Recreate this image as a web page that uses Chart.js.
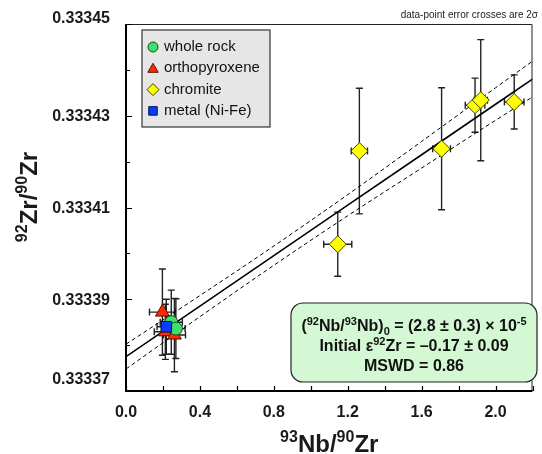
<!DOCTYPE html>
<html><head><meta charset="utf-8">
<script src="https://cdn.jsdelivr.net/npm/chart.js@4.4.1/dist/chart.umd.min.js"></script>
<style>html,body{margin:0;padding:0;background:#fff}#wrap{width:542px;height:454px;position:relative}</style>
</head><body><div id="wrap"><canvas id="c" width="542" height="454"></canvas></div>
<script>
// ---- data ----
const seriesNames = ['whole rock', 'orthopyroxene', 'chromite', 'metal (Ni-Fe)'];

const wholeRockX    = [0.245, 0.270];
const wholeRockY    = [0.3333850, 0.3333836];
const wholeRockXErr = [0.060, 0.050];
const wholeRockYErr = [0.0000070, 0.0000065];

const opxX    = [0.197, 0.213, 0.262];
const opxY    = [0.3333872, 0.3333829, 0.3333822];
const opxXErr = [0.070, 0.060, 0.060];
const opxYErr = [0.0000094, 0.0000060, 0.0000080];

const chromiteX    = [1.146, 1.263, 1.708, 1.889, 1.920, 2.101];
const chromiteY    = [0.3334020, 0.3334223, 0.3334228, 0.3334323, 0.3334334, 0.3334330];
const chromiteXErr = [0.076, 0.044, 0.048, 0.053, 0.036, 0.053];
const chromiteYErr = [0.0000070, 0.0000137, 0.0000133, 0.0000059, 0.0000132, 0.0000059];

const metalX    = [0.218];
const metalY    = [0.3333840];
const metalXErr = [0.050];
const metalYErr = [0.0000060];

// isochron fit and its error envelope
const fitX     = [0, 0.4, 0.8, 1.2, 1.6, 2.0, 2.2];
const fitY     = [0.3333775, 0.3333885, 0.3333995, 0.3334105, 0.3334215, 0.3334325, 0.3334380];
const fitUpper = [0.3333802, 0.3333908, 0.3334016, 0.3334128, 0.3334244, 0.3334361, 0.3334419];
const fitLower = [0.3333748, 0.3333862, 0.3333974, 0.3334082, 0.3334186, 0.3334290, 0.3334341];

// axis ticks
const xTickValues = [0, 0.2, 0.4, 0.6, 0.8, 1.0, 1.2, 1.4, 1.6, 1.8, 2.0, 2.2];
const xLabelValues = [0, 0.4, 0.8, 1.2, 1.6, 2.0];
const xLabelText = ['0.0', '0.4', '0.8', '1.2', '1.6', '2.0'];
const yTickValues = [0.33337, 0.33338, 0.33339, 0.33340, 0.33341, 0.33342, 0.33343, 0.33344, 0.33345];
const yLabelValues = [0.33337, 0.33339, 0.33341, 0.33343, 0.33345];
const yLabelText = ['0.33337', '0.33339', '0.33341', '0.33343', '0.33345'];

const resultLines = [
  [['(', 'n'], ['92', 'sup'], ['Nb/', 'n'], ['93', 'sup'], ['Nb)', 'n'], ['0', 'sub'], [' = (2.8 \u00b1 0.3) \u00d7 10', 'n'], ['-5', 'sup']],
  [['Initial \u03b5', 'n'], ['92', 'sup'], ['Zr = \u20130.17 \u00b1 0.09', 'n']],
  [['MSWD = 0.86', 'n']]
];
const noteText = 'data-point error crosses are 2\u03c3';

// ---- build ----
const FONT = '"Liberation Sans", Arial, Helvetica, sans-serif';
function pts(xs, ys, xe, ye) { return xs.map((x, i) => ({x: x, y: ys[i], xe: xe[i], ye: ye[i]})); }
function linePts(xs, ys) { return xs.map((x, i) => ({x: x, y: ys[i]})); }

const styles = [
  {bg: '#3ee06a', bd: '#1a4a1a', ps: 'circle', r: 6.5, lr: 5},
  {bg: '#ff2a00', bd: '#5a1000', ps: 'triangle', r: 8, lr: 6},
  {bg: '#ffff00', bd: '#444400', ps: 'rectRot', r: 8.5, lr: 6},
  {bg: '#0a3cff', bd: '#001050', ps: 'rect', r: 7.5, lr: 6}
];
const pointData = [
  pts(wholeRockX, wholeRockY, wholeRockXErr, wholeRockYErr),
  pts(opxX, opxY, opxXErr, opxYErr),
  pts(chromiteX, chromiteY, chromiteXErr, chromiteYErr),
  pts(metalX, metalY, metalXErr, metalYErr)
];
const pointOrder = [1, 2, 3, 0];

const datasets = [];
seriesNames.forEach((name, i) => {
  datasets.push({
    type: 'scatter', label: name, data: pointData[i], order: pointOrder[i],
    pointStyle: styles[i].ps, pointRadius: styles[i].r, pointHoverRadius: styles[i].r,
    backgroundColor: styles[i].bg, borderColor: styles[i].bd, borderWidth: 1, errorBars: true
  });
});
datasets.push({type: 'line', label: 'fit', data: linePts(fitX, fitY), order: 10,
  borderColor: '#000', borderWidth: 1.6, pointRadius: 0, fill: false});
datasets.push({type: 'line', label: 'upper', data: linePts(fitX, fitUpper), order: 10,
  borderColor: '#000', borderWidth: 1, borderDash: [4, 3], pointRadius: 0, fill: false, cubicInterpolationMode: 'monotone'});
datasets.push({type: 'line', label: 'lower', data: linePts(fitX, fitLower), order: 10,
  borderColor: '#000', borderWidth: 1, borderDash: [4, 3], pointRadius: 0, fill: false, cubicInterpolationMode: 'monotone'});

function richWidth(ctx, parts, size) {
  let w = 0;
  parts.forEach(p => {
    ctx.font = 'bold ' + (p[1] === 'n' ? size : Math.round(size * 0.66)) + 'px ' + FONT;
    w += ctx.measureText(p[0]).width;
  });
  return w;
}
function drawRich(ctx, parts, x, y, size, align) {
  const w = richWidth(ctx, parts, size);
  let cx = align === 'center' ? x - w / 2 : (align === 'right' ? x - w : x);
  ctx.textBaseline = 'alphabetic';
  ctx.textAlign = 'left';
  parts.forEach(p => {
    const small = p[1] !== 'n';
    ctx.font = 'bold ' + (small ? Math.round(size * 0.66) : size) + 'px ' + FONT;
    let dy = 0;
    if (p[1] === 'sup') dy = -size * 0.40;
    if (p[1] === 'sub') dy = size * 0.22;
    ctx.fillText(p[0], cx, y + dy);
    cx += ctx.measureText(p[0]).width;
  });
}
function roundRect(ctx, x, y, w, h, r) {
  ctx.beginPath();
  ctx.moveTo(x + r, y);
  ctx.lineTo(x + w - r, y); ctx.arcTo(x + w, y, x + w, y + r, r);
  ctx.lineTo(x + w, y + h - r); ctx.arcTo(x + w, y + h, x + w - r, y + h, r);
  ctx.lineTo(x + r, y + h); ctx.arcTo(x, y + h, x, y + h - r, r);
  ctx.lineTo(x, y + r); ctx.arcTo(x, y, x + r, y, r);
  ctx.closePath();
}

const decor = {
  id: 'decor',
  beforeDatasetsDraw(chart) {
    const ctx = chart.ctx, xs = chart.scales.x, ys = chart.scales.y, a = chart.chartArea;
    ctx.save();
    ctx.beginPath(); ctx.rect(a.left, a.top, a.right - a.left, a.bottom - a.top); ctx.clip();
    ctx.strokeStyle = '#222'; ctx.lineWidth = 1.4;
    chart.data.datasets.forEach(ds => {
      if (!ds.errorBars) return;
      ds.data.forEach(p => {
        const px = xs.getPixelForValue(p.x), py = ys.getPixelForValue(p.y);
        const x1 = xs.getPixelForValue(p.x - p.xe), x2 = xs.getPixelForValue(p.x + p.xe);
        const y1 = ys.getPixelForValue(p.y + p.ye), y2 = ys.getPixelForValue(p.y - p.ye);
        const c = 3.5;
        ctx.beginPath();
        ctx.moveTo(x1, py); ctx.lineTo(x2, py);
        ctx.moveTo(x1, py - c); ctx.lineTo(x1, py + c);
        ctx.moveTo(x2, py - c); ctx.lineTo(x2, py + c);
        ctx.moveTo(px, y1); ctx.lineTo(px, y2);
        ctx.moveTo(px - c, y1); ctx.lineTo(px + c, y1);
        ctx.moveTo(px - c, y2); ctx.lineTo(px + c, y2);
        ctx.stroke();
      });
    });
    ctx.restore();
  },
  afterDraw(chart) {
    const ctx = chart.ctx, xs = chart.scales.x, ys = chart.scales.y, a = chart.chartArea;
    ctx.save();
    // frame
    ctx.strokeStyle = '#222'; ctx.lineWidth = 1;
    ctx.beginPath();
    ctx.moveTo(a.left, a.top + 0.5); ctx.lineTo(a.right - 0.5, a.top + 0.5); ctx.lineTo(a.right - 0.5, a.bottom);
    ctx.stroke();
    ctx.strokeStyle = '#000'; ctx.lineWidth = 2;
    ctx.beginPath();
    ctx.moveTo(a.left, a.top); ctx.lineTo(a.left, a.bottom); ctx.lineTo(a.right, a.bottom);
    ctx.stroke();
    // tick marks (inward)
    ctx.lineWidth = 1.2; ctx.strokeStyle = '#000';
    ctx.beginPath();
    xTickValues.forEach(v => {
      const px = Math.round(xs.getPixelForValue(v)) + 0.5;
      ctx.moveTo(px, a.bottom); ctx.lineTo(px, a.bottom - 5);
    });
    yTickValues.forEach(v => {
      const py = Math.round(ys.getPixelForValue(v)) + 0.5;
      const major = yLabelValues.some(l => Math.abs(l - v) < 1e-9);
      ctx.moveTo(a.left, py); ctx.lineTo(a.left + (major ? 6 : 4), py);
    });
    ctx.stroke();
    // tick labels
    ctx.fillStyle = '#1a1a1a';
    ctx.font = 'bold 16px ' + FONT;
    ctx.textAlign = 'center'; ctx.textBaseline = 'middle';
    xLabelValues.forEach((v, i) => ctx.fillText(xLabelText[i], xs.getPixelForValue(v), 413));
    ctx.textAlign = 'right';
    yLabelValues.forEach((v, i) => {
      let py = ys.getPixelForValue(v);
      if (i === 0) py -= 12;
      if (i === yLabelValues.length - 1) py -= 6;
      ctx.fillText(yLabelText[i], 110, py + 1);
    });
    // axis titles
    ctx.fillStyle = '#1a1a1a';
    drawRich(ctx, [['93', 'sup'], ['Nb/', 'n'], ['90', 'sup'], ['Zr', 'n']], (a.left + a.right) / 2, 452, 24, 'center');
    ctx.save();
    ctx.translate(37, 197); ctx.rotate(-Math.PI / 2);
    drawRich(ctx, [['92', 'sup'], ['Zr/', 'n'], ['90', 'sup'], ['Zr', 'n']], 0, 0, 24, 'center');
    ctx.restore();
    // note
    ctx.font = '10px ' + FONT; ctx.fillStyle = '#222';
    ctx.textAlign = 'right'; ctx.textBaseline = 'middle';
    ctx.fillText(noteText, 538, 15);
    // legend
    ctx.fillStyle = '#e6e6e6'; ctx.strokeStyle = '#333'; ctx.lineWidth = 1.2;
    ctx.fillRect(142, 30, 128, 97); ctx.strokeRect(142, 30, 128, 97);
    seriesNames.forEach((name, i) => {
      const cy = 47 + i * 21.3;
      ctx.fillStyle = styles[i].bg; ctx.strokeStyle = styles[i].bd; ctx.lineWidth = 1;
      Chart.helpers.drawPoint(ctx, {pointStyle: styles[i].ps, radius: styles[i].lr, rotation: 0, borderWidth: 1}, 153, cy + (styles[i].ps === 'triangle' ? 1 : 0));
      ctx.fillStyle = '#111'; ctx.font = '15px ' + FONT;
      ctx.textAlign = 'left'; ctx.textBaseline = 'middle';
      ctx.fillText(name, 164, cy);
    });
    // result box
    ctx.fillStyle = '#d3f8d3'; ctx.strokeStyle = '#222'; ctx.lineWidth = 1.2;
    roundRect(ctx, 291, 303, 246, 79, 12); ctx.fill(); ctx.stroke();
    ctx.fillStyle = '#111';
    drawRich(ctx, resultLines[0], 414, 331, 16, 'center');
    drawRich(ctx, resultLines[1], 414, 351, 16, 'center');
    drawRich(ctx, resultLines[2], 414, 371, 16, 'center');
    ctx.restore();
  }
};

new Chart(document.getElementById('c'), {
  type: 'scatter',
  data: {datasets: datasets},
  options: {
    responsive: false, animation: false, devicePixelRatio: 1,
    layout: {padding: {top: 24, right: 1, left: 0, bottom: 0}},
    plugins: {legend: {display: false}, tooltip: {enabled: false}},
    scales: {
      x: {type: 'linear', min: 0, max: 2.2,
        afterBuildTicks: s => { s.ticks = xTickValues.map(v => ({value: v})); },
        ticks: {display: false}, grid: {display: false, drawTicks: false}, border: {display: false},
        afterFit: s => { s.height = 63; }},
      y: {type: 'linear', min: 0.33337, max: 0.33345,
        afterBuildTicks: s => { s.ticks = yTickValues.map(v => ({value: v})); },
        ticks: {display: false}, grid: {display: false, drawTicks: false}, border: {display: false},
        afterFit: s => { s.width = 126; }}
    }
  },
  plugins: [decor]
});
</script></body></html>
